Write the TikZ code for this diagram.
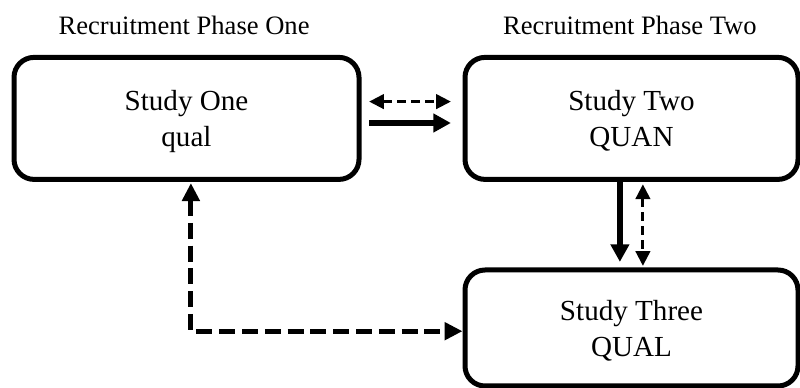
\documentclass[tikz,border=0pt]{standalone}
\usepackage{fontspec}
\setmainfont{Liberation Serif}
\usetikzlibrary{arrows.meta}

\begin{document}
\begin{tikzpicture}[
		study/.style={draw, line width=0.125cm, rounded corners=0.5cm, inner sep=0, align=center, text depth=0pt, font=\fontsize{20.7}{25.6}\selectfont},
		phase/.style={anchor=base, font=\fontsize{18.9}{22}\selectfont},
		solidarrow/.style={line width=0.15cm, -{Triangle[length=0.44cm, width=0.45cm]}},
		thindash/.style={line width=0.075cm, dash pattern=on 0.22cm off 0.13cm, {Triangle[length=0.37cm, width=0.36cm]}-{Triangle[length=0.37cm, width=0.36cm]}},
		thickdash/.style={line width=0.125cm, dash pattern=on 0.4cm off 0.17cm, {Triangle[length=0.45cm, width=0.43cm]}-{Triangle[length=0.45cm, width=0.43cm]}}
	]
		%%%%% START %%%%%
		\useasboundingbox (0, 0) rectangle (20, 9.7);
		
		\node[study, minimum width=8.625cm, minimum height=3.05cm] (one) at (4.6625, 6.74) {Study One\\qual};
		\node[study, minimum width=8.325cm, minimum height=3.05cm] (two) at (15.7875, 6.74) {Study Two\\QUAN};
		\node[study, minimum width=8.325cm, minimum height=2.9cm] (three) at (15.7875, 1.5) {Study Three\\QUAL};
		
		\node[phase] (phaseone) at ([xshift=-0.6mm, yshift=5mm]one.north) {Recruitment Phase One};
		\node[phase] (phasetwo) at ([xshift=-0.4mm, yshift=5mm]two.north) {Recruitment Phase Two};
		
		\draw[thindash] ([xshift=1.9mm, yshift=4.2mm]one.east) -- ([xshift=-2.9mm, yshift=4.2mm]two.west);
		\draw[solidarrow] ([xshift=1.9mm, yshift=-1.15mm]one.east) -- ([xshift=-2.9mm, yshift=-1.15mm]two.west);
		
		\draw[solidarrow] ([xshift=-2.9mm]two.south) -- ([xshift=-2.9mm, yshift=1.4mm]three.north);
		\draw[thindash] ([xshift=2.85mm, yshift=-0.6mm]two.south) -- ([xshift=2.85mm, yshift=0.4mm]three.north);
		
		\draw[thickdash] ([xshift=1.1mm, yshift=-0.3mm]one.south) |- ([yshift=-0.8mm]three.west);
		%%%%% END %%%%%
	\end{tikzpicture}
\end{document}
